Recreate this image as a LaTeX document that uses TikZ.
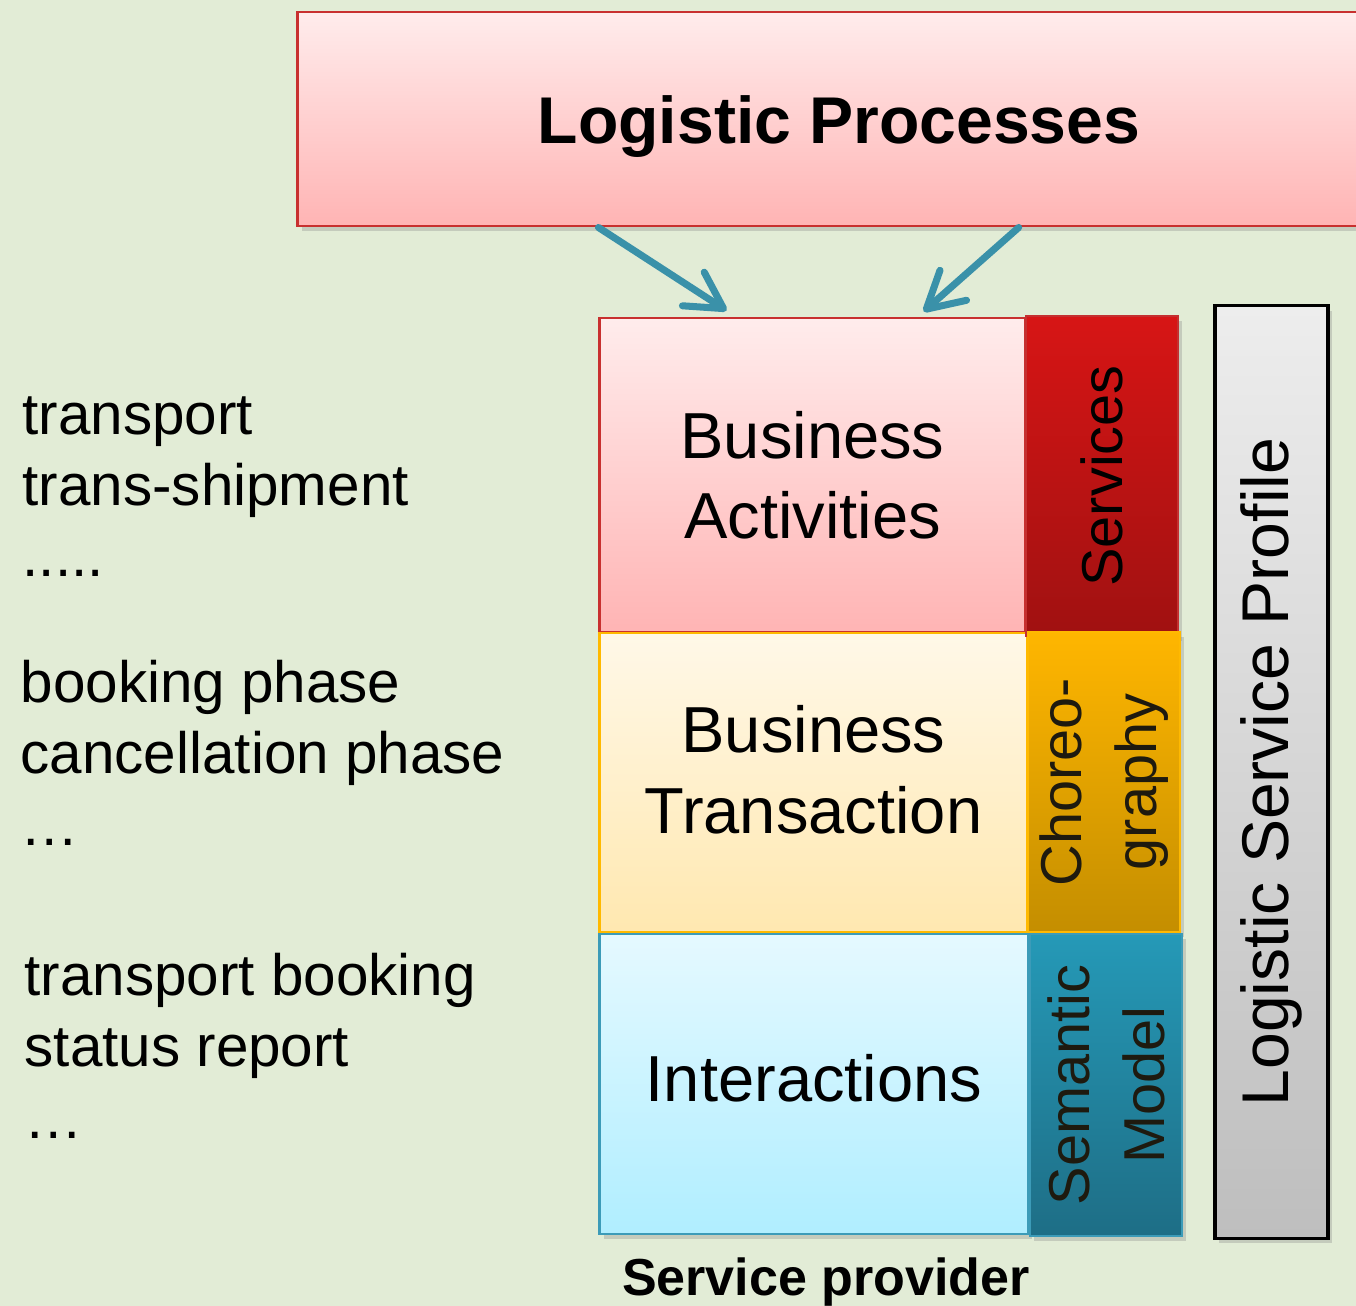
\documentclass[tikz,border=0pt]{standalone}
\usepackage{fontspec}
\setmainfont{Liberation Sans}
\usetikzlibrary{arrows.meta,shadows}

\definecolor{paper}{RGB}{226,236,214}
\definecolor{pinkline}{RGB}{200,48,47}
\definecolor{pinktop}{RGB}{255,236,236}
\definecolor{pinkbot}{RGB}{255,180,180}
\definecolor{redtop}{RGB}{215,21,21}
\definecolor{redbot}{RGB}{160,17,17}
\definecolor{redline}{RGB}{196,48,48}
\definecolor{creamtop}{RGB}{255,248,232}
\definecolor{creambot}{RGB}{255,232,176}
\definecolor{goldline}{RGB}{255,185,0}
\definecolor{goldtop}{RGB}{255,182,0}
\definecolor{goldbot}{RGB}{196,142,0}
\definecolor{icetop}{RGB}{229,249,255}
\definecolor{icebot}{RGB}{176,238,255}
\definecolor{tealline}{RGB}{60,155,184}
\definecolor{tealtop}{RGB}{37,153,183}
\definecolor{tealbot}{RGB}{30,110,134}
\definecolor{greytop}{RGB}{237,237,237}
\definecolor{greybot}{RGB}{190,190,190}
\definecolor{flowblue}{RGB}{58,145,169}
\definecolor{darkink}{RGB}{30,26,15}

\begin{document}
\begin{tikzpicture}[x=0.01cm,y=-0.01cm,
  layer/.style={draw,line width=0.8pt,inner sep=0pt,align=center,
    font=\fontsize{18.5}{22.8}\selectfont,
    drop shadow={opacity=0.3,shadow xshift=0.04cm,shadow yshift=-0.05cm}},
  side/.style={draw,line width=0.8pt,rotate=90,inner sep=0pt,align=center,
    minimum height=1.52cm,text=darkink,font=\fontsize{16.4}{21.3}\selectfont,
    drop shadow={opacity=0.3,shadow xshift=0.04cm,shadow yshift=-0.05cm}},
  note/.style={anchor=base west,align=left,inner sep=0pt,
    font=\fontsize{16.6}{20.2}\selectfont},
  flow/.style={draw=flowblue,line width=2pt,line cap=round,
    -{Straight Barb[length=3.6mm,width=4mm,round]}}
]
  \fill[paper] (0,0) rectangle (1356,1306);
  \useasboundingbox (0,0) rectangle (1356,1306);

  % top level
  \node[layer,draw=pinkline,top color=pinktop,bottom color=pinkbot,
    minimum width=10.82cm,minimum height=2.14cm,text height=0.62cm,
    font=\fontsize{18.8}{22}\selectfont\bfseries] (proc) at (839,119) {Logistic Processes};

  % service provider stack
  \node[layer,draw=pinkline,top color=pinktop,bottom color=pinkbot,
    minimum width=4.25cm,minimum height=3.14cm] (act) at (812.5,475) {Business\\Activities};
  \node[layer,draw=goldline,top color=creamtop,bottom color=creambot,
    minimum width=4.27cm,minimum height=2.99cm,text depth=0.26cm] (trans) at (813.5,782.5) {Business\\Transaction};
  \node[layer,draw=tealline,top color=icetop,bottom color=icebot,
    minimum width=4.28cm,minimum height=3.00cm,text depth=0.12cm] (inter) at (814,1084) {Interactions};

  \node[side,draw=redline,top color=redtop,bottom color=redbot,
    minimum width=3.20cm,text=black] (serv) at (1102,476) {Services};
  \node[side,draw=goldline,top color=goldtop,bottom color=goldbot,
    minimum width=3.00cm] (chor) at (1104,782) {Choreo-\\graphy};
  \node[side,draw=tealline,top color=tealtop,bottom color=tealbot,
    minimum width=3.02cm] (sem) at (1106,1085) {Semantic\\Model};

  \node[side,draw=black,line width=1pt,top color=greytop,bottom color=greybot,
    minimum width=9.32cm,minimum height=1.13cm,text=black,
    font=\fontsize{18.8}{22}\selectfont] (prof) at (1271.5,772) {Logistic Service Profile};

  \node[anchor=base,inner sep=0pt,font=\fontsize{14.8}{18}\selectfont\bfseries]
    (prov) at (826,1295) {Service provider};

  % examples per layer
  \node[note] (ex1) at (22,577) {transport\\trans-shipment\\.....};
  \node[note] (ex2) at (20,845) {booking phase\\cancellation phase\\…};
  \node[note] (ex3) at (24,1138) {transport booking\\status report\\…};

  % refinement arrows
  \draw[flow] ([xshift=3.02cm]proc.south west) -- ([xshift=1.28cm,yshift=0.06cm]act.north west);
  \draw[flow] ([xshift=7.22cm]proc.south west) -- ([xshift=3.25cm,yshift=0.05cm]act.north west);
\end{tikzpicture}
\end{document}
